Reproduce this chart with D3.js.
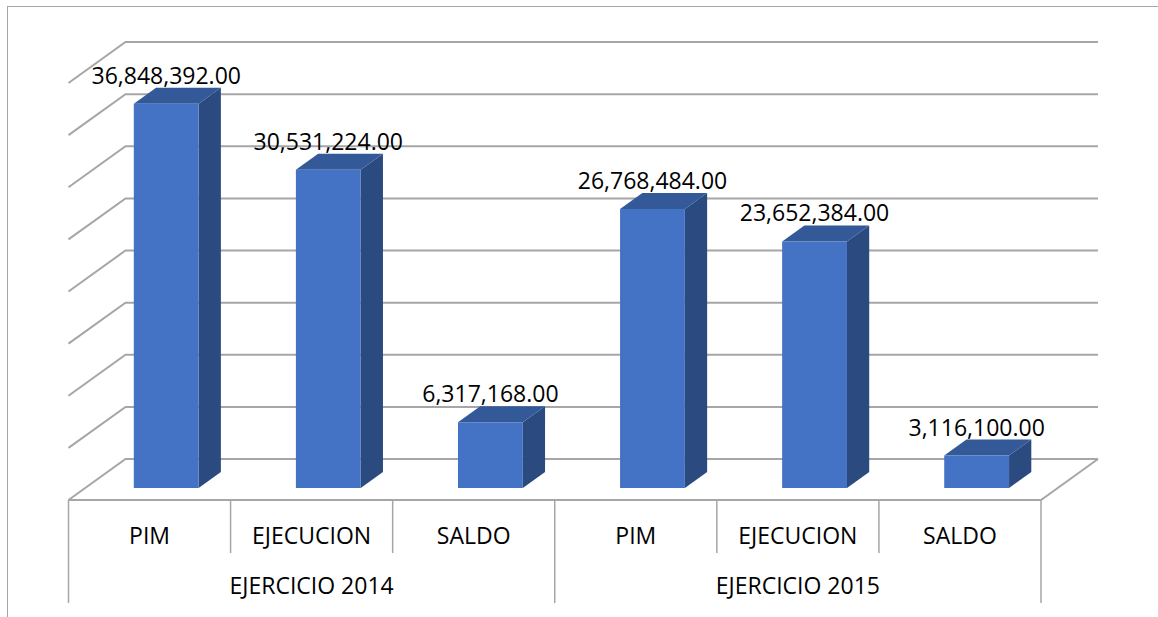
<!DOCTYPE html>
<html><head><meta charset="utf-8">
<script src="https://cdn.jsdelivr.net/npm/d3@7"></script>
<style>body{margin:0;background:#fff}svg{display:block}</style>
</head><body><svg id="c" width="1158" height="617"></svg>
<script>
// ---- data ----
const groups = ["EJERCICIO 2014", "EJERCICIO 2015"];
const categories = ["PIM", "EJECUCION", "SALDO", "PIM", "EJECUCION", "SALDO"];
const categoryGroup = [0, 0, 0, 1, 1, 1];
const values = [36848392, 30531224, 6317168, 26768484, 23652384, 3116100];
const tickValues = [0, 5000000, 10000000, 15000000, 20000000, 25000000, 30000000, 35000000, 40000000];

// ---- layout ----
const svg = d3.select("#c");
const X0 = 68.5, X1 = 1041, FY = 500, DX = 57, DY = 41;
const D0 = 12 / 41, D1 = 28 / 41;
const x = d3.scaleBand().domain(d3.range(categories.length)).range([X0, X1]).padding(0);
const h = d3.scaleLinear().domain([0, 40000000]).range([0, 417]);
const P = (xf, v, d) => [xf + DX * d, FY - h(v) - DY * d];
const grid = "#a6a6a6";
const fmt = d3.format(",.2f");

// outer border
svg.append("line").attr("x1", 7).attr("x2", 1158).attr("y1", 6.5).attr("y2", 6.5).attr("stroke", "#a6a6a6").attr("stroke-width", 1);
svg.append("line").attr("x1", 7.5).attr("x2", 7.5).attr("y1", 6).attr("y2", 617).attr("stroke", "#a6a6a6").attr("stroke-width", 1);

// back wall gridlines + left wall diagonals
const gW = svg.append("g").attr("fill", "none").attr("stroke", grid).attr("stroke-width", 2);
tickValues.forEach(t => {
  const a = P(X0, t, 0), b = P(X0, t, 1), c = P(X1, t, 1);
  gW.append("path").attr("d", d3.line()([a, b, c]));
});
// floor right edge & front edge
gW.append("path").attr("d", d3.line()([P(X0, 0, 0), P(X1, 0, 0), P(X1, 0, 1)]));

// axis dividers
const gA = svg.append("g").attr("stroke", grid).attr("stroke-width", 1.5);
for (let i = 0; i <= categories.length; i++) {
  const xi = i < categories.length ? x(i) : X1;
  const isGroupEdge = i === 0 || i === categories.length || categoryGroup[i] !== categoryGroup[i - 1];
  gA.append("line").attr("x1", xi).attr("x2", xi).attr("y1", FY).attr("y2", isGroupEdge ? 603 : 553);
}

// category labels
const font = "'Open Sans', sans-serif";
svg.append("g").selectAll("text").data(categories).join("text")
  .attr("x", (d, i) => x(i) + x.bandwidth() / 2).attr("y", 544)
  .attr("text-anchor", "middle").attr("font-family", font).attr("font-size", 23).attr("fill", "#000")
  .text(d => d);
svg.append("g").selectAll("text").data(groups).join("text")
  .attr("x", (d, gi) => {
    const idx = categoryGroup.map((g, i) => g === gi ? i : -1).filter(i => i >= 0);
    return (x(idx[0]) + x(idx[idx.length - 1]) + x.bandwidth()) / 2;
  }).attr("y", 594)
  .attr("text-anchor", "middle").attr("font-family", font).attr("font-size", 23).attr("fill", "#000")
  .text(d => d);

// bars
const bw = x.bandwidth() * 0.4;
const gB = svg.append("g");
values.forEach((v, i) => {
  const xl = x(i) + (x.bandwidth() - bw) / 2, xr = xl + bw;
  const front = [P(xl, 0, D0), P(xr, 0, D0), P(xr, v, D0), P(xl, v, D0)];
  const top = [P(xl, v, D0), P(xr, v, D0), P(xr, v, D1), P(xl, v, D1)];
  const side = [P(xr, 0, D0), P(xr, v, D0), P(xr, v, D1), P(xr, 0, D1)];
  gB.append("path").attr("d", d3.line()(side) + "Z").attr("fill", "#2b4a80");
  gB.append("path").attr("d", d3.line()(top) + "Z").attr("fill", "#335998");
  gB.append("path").attr("d", d3.line()(front) + "Z").attr("fill", "#4472c4");
  const lx = (xl + xr) / 2 + DX * D0;
  svg.append("text").attr("x", lx).attr("y", P(xl, v, D1)[1] - 4)
    .attr("text-anchor", "middle").attr("font-family", font).attr("font-size", 23).attr("fill", "#000")
    .text(fmt(v));
});
</script></body></html>
